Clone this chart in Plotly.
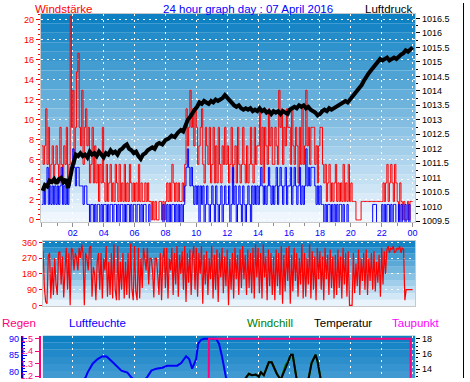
import plotly.graph_objects as go

W, H = 470, 382

# ---------------- data ----------------
# 5-minute time grid (hours of the day)
t5 = [i / 12 for i in range(289)]

# Windstärke: gusts (red) – one row per hour
gust = [
    7.4, 5.55, 7.4, 11.1, 5.55, 9.25, 3.7, 5.55, 7.4, 3.7, 5.55, 7.4,
    5.55, 3.7, 9.25, 5.55, 3.7, 7.4, 5.55, 9.25, 3.7, 5.55, 20.35, 9.25,
    12.95, 5.55, 9.25, 14.8, 16.65, 9.25, 7.4, 12.95, 5.55, 9.25, 11.1, 7.4,
    9.25, 3.7, 5.55, 9.25, 3.7, 7.4, 3.7, 5.55, 1.85, 5.55, 3.7, 9.25,
    3.7, 1.85, 5.55, 1.85, 3.7, 5.55, 1.85, 3.7, 1.85, 5.55, 3.7, 1.85,
    5.55, 1.85, 3.7, 1.85, 5.55, 1.85, 3.7, 1.85, 5.55, 3.7, 1.85, 3.7,
    1.85, 3.7, 1.85, 5.55, 1.85, 3.7, 1.85, 1.85, 3.7, 1.85, 3.7, 1.85,
    1.85, 0, 1.85, 0, 1.85, 0, 0, 1.85, 1.85, 0, 1.85, 0,
    1.85, 3.7, 1.85, 3.7, 1.85, 5.55, 3.7, 1.85, 3.7, 1.85, 3.7, 1.85,
    1.85, 3.7, 1.85, 5.55, 11.1, 7.4, 9.25, 12.95, 9.25, 11.1, 7.4, 11.1,
    9.25, 5.55, 7.4, 9.25, 11.1, 5.55, 3.7, 9.25, 7.4, 5.55, 9.25, 3.7,
    5.55, 9.25, 3.7, 7.4, 3.7, 9.25, 5.55, 3.7, 7.4, 5.55, 9.25, 5.55,
    7.4, 3.7, 5.55, 9.25, 3.7, 5.55, 7.4, 3.7, 9.25, 5.55, 3.7, 5.55,
    9.25, 5.55, 3.7, 7.4, 3.7, 5.55, 9.25, 5.55, 3.7, 9.25, 5.55, 7.4,
    7.4, 11.1, 5.55, 9.25, 3.7, 9.25, 7.4, 5.55, 11.1, 7.4, 9.25, 5.55,
    5.55, 9.25, 7.4, 5.55, 12.95, 9.25, 11.1, 5.55, 9.25, 7.4, 11.1, 9.25,
    9.25, 5.55, 11.1, 7.4, 5.55, 9.25, 7.4, 3.7, 9.25, 5.55, 11.1, 5.55,
    7.4, 12.95, 7.4, 9.25, 5.55, 9.25, 9.25, 9.25, 5.55, 7.4, 3.7, 7.4,
    9.25, 9.25, 5.55, 3.7, 5.55, 1.85, 3.7, 5.55, 1.85, 3.7, 1.85, 3.7,
    5.55, 1.85, 3.7, 1.85, 3.7, 1.85, 5.55, 1.85, 3.7, 1.85, 5.55, 1.85,
    3.7, 1.85, 1.85, 1.85, 0, 0, 0, 0, 1.85, 1.85, 1.85, 1.85,
    1.85, 1.85, 1.85, 1.85, 1.85, 1.85, 1.85, 1.85, 1.85, 1.85, 1.85, 1.85,
    1.85, 3.7, 1.85, 3.7, 5.55, 1.85, 3.7, 5.55, 3.7, 1.85, 5.55, 3.7,
    1.85, 0, 3.7, 1.85, 0, 1.85, 0, 0, 1.85, 0, 1.85, 1.85, 1.85,
]
# Windstärke: average (blue)
wind_avg = [
    1.85, 3.7, 1.85, 3.7, 5.55, 1.85, 3.7, 1.85, 3.7, 1.85, 3.7, 1.85,
    3.7, 1.85, 3.7, 5.55, 1.85, 3.7, 1.85, 3.7, 1.85, 3.7, 5.55, 5.55,
    7.4, 5.55, 3.7, 5.55, 5.55, 3.7, 3.7, 3.7, 1.85, 3.7, 3.7, 1.85,
    1.85, 0, 1.85, 1.85, 0, 1.85, 0, 1.85, 1.85, 0, 1.85, 0,
    1.85, 1.85, 0, 1.85, 0, 1.85, 1.85, 0, 1.85, 1.85, 0, 1.85,
    0, 1.85, 1.85, 0, 1.85, 0, 1.85, 1.85, 0, 1.85, 0, 1.85,
    1.85, 0, 1.85, 1.85, 0, 1.85, 0, 1.85, 1.85, 0, 0, 1.85,
    0, 0, 0, 0, 0, 0, 0, 0, 0, 0, 1.85, 0,
    0, 1.85, 0, 1.85, 0, 1.85, 1.85, 0, 1.85, 0, 1.85, 0,
    1.85, 0, 1.85, 3.7, 5.55, 7.4, 5.55, 3.7, 5.55, 3.7, 1.85, 3.7,
    1.85, 3.7, 0, 3.7, 1.85, 3.7, 0, 1.85, 3.7, 1.85, 0, 1.85,
    3.7, 1.85, 0, 3.7, 1.85, 0, 1.85, 3.7, 0, 1.85, 3.7, 1.85,
    1.85, 3.7, 0, 1.85, 5.55, 1.85, 3.7, 0, 1.85, 3.7, 1.85, 0,
    3.7, 1.85, 0, 1.85, 3.7, 1.85, 0, 3.7, 1.85, 3.7, 1.85, 3.7,
    1.85, 3.7, 5.55, 3.7, 1.85, 3.7, 1.85, 3.7, 5.55, 3.7, 1.85, 3.7,
    1.85, 3.7, 5.55, 1.85, 3.7, 5.55, 3.7, 1.85, 3.7, 5.55, 1.85, 3.7,
    3.7, 5.55, 1.85, 3.7, 5.55, 3.7, 1.85, 3.7, 5.55, 1.85, 3.7, 1.85,
    3.7, 7.4, 3.7, 5.55, 3.7, 5.55, 5.55, 5.55, 3.7, 1.85, 3.7, 1.85,
    3.7, 1.85, 1.85, 0, 1.85, 0, 1.85, 1.85, 0, 1.85, 0, 1.85,
    0, 1.85, 0, 1.85, 1.85, 0, 1.85, 0, 0, 1.85, 0, 0,
    0, 0, 0, 0, 0, 0, 0, 0, 0, 0, 0, 0,
    0, 0, 0, 0, 0, 1.85, 1.85, 1.85, 0, 0, 0, 0,
    1.85, 0, 1.85, 0, 1.85, 1.85, 0, 1.85, 0, 1.85, 1.85, 0,
    0, 1.85, 0, 1.85, 0, 0, 1.85, 0, 0, 1.85, 0, 0, 0,
]

# Luftdruck (hour, hPa)
press_pts = [
    (0.05, 1010.55), (0.2, 1010.75), (0.35, 1010.7), (0.5, 1010.9), (0.65, 1010.85),
    (0.8, 1010.95), (0.95, 1010.8), (1.1, 1010.95), (1.25, 1011.0), (1.4, 1010.85),
    (1.55, 1010.95), (1.7, 1010.65), (1.8, 1010.9), (1.9, 1011.2), (2.0, 1011.45),
    (2.1, 1011.6), (2.2, 1011.8), (2.35, 1011.75), (2.5, 1011.85), (2.65, 1011.75),
    (2.8, 1011.8), (2.95, 1011.7), (3.1, 1011.9), (3.25, 1011.8), (3.4, 1011.85),
    (3.55, 1011.75), (3.7, 1011.9), (3.85, 1011.8), (4.0, 1011.7), (4.15, 1011.85),
    (4.3, 1011.8), (4.45, 1011.95), (4.6, 1011.85), (4.75, 1011.9), (4.9, 1011.8),
    (5.05, 1011.95), (5.2, 1012.0), (5.35, 1012.1), (5.5, 1012.15), (5.65, 1012.0),
    (5.8, 1011.95), (5.95, 1011.85), (6.1, 1011.9), (6.25, 1011.75), (6.4, 1011.65),
    (6.55, 1011.8), (6.7, 1011.85), (6.85, 1011.95), (7.0, 1012.0), (7.15, 1012.05),
    (7.3, 1012.0), (7.45, 1012.15), (7.6, 1012.2), (7.8, 1012.15), (8.0, 1012.3),
    (8.2, 1012.35), (8.4, 1012.45), (8.6, 1012.4), (8.8, 1012.55), (9.0, 1012.65),
    (9.15, 1012.6), (9.3, 1012.8), (9.45, 1013.0), (9.6, 1013.1), (9.75, 1013.25),
    (9.9, 1013.35), (10.05, 1013.45), (10.2, 1013.6), (10.35, 1013.55), (10.5, 1013.65),
    (10.65, 1013.6), (10.8, 1013.55), (10.95, 1013.65), (11.1, 1013.6), (11.25, 1013.7),
    (11.4, 1013.65), (11.55, 1013.7), (11.7, 1013.75), (11.85, 1013.85), (12.0, 1013.75),
    (12.15, 1013.65), (12.3, 1013.55), (12.45, 1013.5), (12.6, 1013.45), (12.75, 1013.5),
    (12.9, 1013.4), (13.05, 1013.35), (13.2, 1013.4), (13.35, 1013.35), (13.5, 1013.4),
    (13.65, 1013.3), (13.8, 1013.35), (13.95, 1013.3), (14.1, 1013.4), (14.25, 1013.3),
    (14.4, 1013.35), (14.55, 1013.25), (14.7, 1013.3), (14.85, 1013.2), (15.0, 1013.3),
    (15.15, 1013.25), (15.3, 1013.3), (15.45, 1013.2), (15.6, 1013.3), (15.75, 1013.25),
    (15.9, 1013.2), (16.05, 1013.35), (16.2, 1013.4), (16.35, 1013.45), (16.5, 1013.4),
    (16.65, 1013.5), (16.8, 1013.45), (16.95, 1013.5), (17.1, 1013.4), (17.25, 1013.45),
    (17.4, 1013.35), (17.55, 1013.3), (17.7, 1013.25), (17.85, 1013.15), (18.0, 1013.2),
    (18.15, 1013.3), (18.3, 1013.35), (18.45, 1013.3), (18.6, 1013.4), (18.75, 1013.35),
    (18.9, 1013.4), (19.05, 1013.45), (19.2, 1013.5), (19.35, 1013.55), (19.5, 1013.6),
    (19.65, 1013.65), (19.8, 1013.6), (19.95, 1013.7), (20.1, 1013.8), (20.25, 1013.85),
    (20.4, 1013.95), (20.55, 1014.05), (20.7, 1014.2), (20.85, 1014.35), (21.0, 1014.5),
    (21.15, 1014.6), (21.3, 1014.7), (21.45, 1014.8), (21.6, 1014.9), (21.75, 1015.0),
    (21.9, 1015.1), (22.05, 1015.05), (22.2, 1015.1), (22.35, 1015.15), (22.5, 1015.05),
    (22.65, 1015.1), (22.8, 1015.15), (22.95, 1015.1), (23.1, 1015.2), (23.25, 1015.25),
    (23.4, 1015.3), (23.55, 1015.4), (23.7, 1015.35), (23.85, 1015.45), (24.0, 1015.5),
]
press_h = [p[0] for p in press_pts]
press = [p[1] for p in press_pts]

# Windrichtung (degrees), 5-minute values – one row per hour
wind_dir = [
    315, 310, 100, 20, 10, 280, 300, 40, 220, 60, 270, 120,
    60, 300, 310, 120, 280, 45, 200, 330, 90, 300, 0, 330,
    315, 200, 300, 270, 200, 330, 270, 350, 300, 0, 300, 270,
    200, 330, 340, 50, 220, 180, 30, 250, 300, 90, 300, 40,
    270, 200, 340, 50, 250, 60, 300, 40, 350, 90, 30, 340,
    30, 250, 90, 300, 40, 250, 60, 300, 40, 355, 90, 30,
    340, 80, 30, 330, 40, 270, 100, 330, 270, 200, 330, 120,
    270, 270, 200, 45, 270, 270, 180, 60, 300, 30, 270, 330,
    100, 330, 40, 270, 200, 330, 60, 300, 120, 340, 50, 290,
    180, 310, 90, 340, 20, 300, 130, 320, 60, 280, 340, 90,
    330, 50, 300, 180, 340, 10, 290, 120, 310, 60, 270, 150,
    340, 40, 290, 90, 320, 20, 300, 160, 330, 70, 280, 110,
    320, 0, 270, 90, 300, 40, 330, 150, 290, 60, 320, 100,
    340, 150, 290, 60, 320, 100, 300, 70, 330, 40, 350, 160,
    330, 70, 300, 40, 350, 160, 280, 30, 320, 110, 300, 60,
    280, 30, 320, 110, 300, 60, 340, 10, 290, 80, 330, 140,
    340, 10, 290, 80, 330, 140, 300, 50, 270, 120, 350, 40,
    300, 50, 270, 120, 350, 40, 310, 90, 280, 30, 330, 150,
    310, 90, 280, 30, 330, 150, 290, 60, 320, 100, 280, 40,
    290, 60, 320, 100, 280, 40, 330, 120, 300, 50, 310, 0,
    0, 0, 300, 70, 240, 110, 320, 60, 270, 140, 300, 90,
    320, 60, 270, 140, 300, 90, 310, 80, 250, 130, 290, 50,
    330, 120, 310, 180, 320, 340, 300, 330, 320, 340, 300, 310,
    330, 320, 340, 300, 330, 320, 30, 90, 90, 90, 90, 90, 90,
]
compass_vals = [0, 90, 180, 270, 360]
compass_text = ["N", "O", "S", "W", "N"]

# Regen (mm)
rain_h = [0, 6, 10.75, 10.82, 23.87, 23.9, 24]
rain = [0, 0, 0, 1.5, 1.5, 0, 0]

# Luftfeuchte (%)
hum_h = [0, 1, 2, 2.6, 2.83, 2.96, 3.29, 3.61, 3.93, 4.19, 4.51, 4.83, 5.15, 5.54,
         5.8, 6.3, 6.77, 7.09, 7.41, 7.8, 8.12, 8.76, 9.02, 9.34, 9.54, 9.73, 9.99,
         10.12, 10.31, 10.5, 11.28, 11.47, 11.66, 11.92, 12.5, 14, 16, 18, 20, 22, 24]
hum = [74, 75, 76, 77, 78.2, 79.7, 82.4, 83.8, 84.7, 84.6, 83.2, 81.8, 80.3, 79.7,
       78.2, 76.5, 78.0, 80.3, 80.9, 81.2, 81.8, 81.8, 82.6, 84.7, 83.8, 80.9, 83.8,
       88.5, 89.7, 90.0, 90.0, 88.5, 84.7, 78.2, 72, 62, 58, 60, 64, 66, 68]

# Temperatur / Windchill / Taupunkt (°C)
temp_h = [0, 2, 4, 6, 8, 10, 12, 13.0, 13.21, 13.4, 13.6, 13.85, 14.05, 14.18, 14.37,
          14.55, 14.69, 14.88, 15.05, 15.21, 15.46, 15.65, 15.79, 15.95, 16.11, 16.24,
          16.35, 16.5, 16.95, 17.27, 17.46, 17.72, 17.85, 18.04, 18.3, 20, 22, 24]
temp = [8.6, 8.2, 7.9, 7.6, 8.8, 10.4, 11.8, 12.3, 12.8, 13.4, 13.2, 13.3, 13.0, 13.6,
        13.2, 14.2, 14.9, 14.9, 14.0, 13.4, 12.6, 13.5, 14.1, 15.0, 15.9, 15.9, 14.5,
        12.6, 12.5, 12.8, 14.8, 15.9, 15.0, 12.8, 12.2, 10.9, 9.8, 9.2]
windchill = [7.4, 6.9, 6.5, 6.3, 7.6, 9.5, 11.8, 12.3, 12.8, 13.4, 13.2, 13.3, 13.0, 13.6,
             13.2, 14.2, 14.9, 14.9, 14.0, 13.4, 12.6, 13.9, 14.6, 15.0, 15.9, 15.9, 14.5,
             12.6, 12.5, 12.8, 14.8, 15.9, 15.0, 12.8, 12.2, 10.9, 9.0, 8.2]
dew_h = [0, 4, 8, 12, 16, 20, 24]
dew = [6.8, 6.5, 7.0, 7.6, 6.9, 6.4, 6.1]

hour_ticks = [2, 4, 6, 8, 10, 12, 14, 16, 18, 20, 22, 24]
hour_text = ["02", "04", "06", "08", "10", "12", "14", "16", "18", "20", "22", "00"]

# ---------------- styling helpers ----------------
FONT = "Liberation Sans"
GRID = dict(showgrid=True, gridcolor="white", griddash="2px,4px", gridwidth=1)
FRAME = "#c8c8c8"


def px_x(p):
    return p / W


def px_y(p):
    return 1 - p / H


def bands(xref, yref, c_top, c_bot, n=22):
    out = []
    for k in range(n):
        t = (k + 0.5) / n  # 0 bottom .. 1 top
        c = tuple(int(round(c_bot[i] + (c_top[i] - c_bot[i]) * t)) for i in range(3))
        out.append(dict(type="rect", xref=xref, yref=yref, x0=0, x1=1,
                        y0=k / n, y1=(k + 1) / n, layer="below",
                        line=dict(width=0), fillcolor="rgb(%d,%d,%d)" % c))
    return out


TOP = (8, 126, 194)
BOT = (244, 249, 255)
WIND_RANGE = [-0.196, 20.59]
AVG_RANGE = [0.104, 20.89]   # average wind drawn ~3px lower, as in the original

fig = go.Figure()

# top panel
fig.add_trace(go.Scatter(x=t5, y=gust, mode="lines", xaxis="x", yaxis="y",
                         line=dict(color="#ff0000", width=1, shape="hv")))
fig.add_trace(go.Scatter(x=t5, y=wind_avg, mode="lines", xaxis="x", yaxis="y2",
                         line=dict(color="#0000ff", width=1, shape="hv")))
fig.add_trace(go.Scatter(x=press_h, y=press, mode="lines", xaxis="x", yaxis="y3",
                         line=dict(color="#000000", width=4)))
# middle panel
fig.add_trace(go.Scatter(x=t5, y=wind_dir, mode="lines", xaxis="x2", yaxis="y4",
                         line=dict(color="#ff0000", width=1.2)))
# bottom panel
fig.add_trace(go.Scatter(x=dew_h, y=dew, mode="lines", xaxis="x3", yaxis="y6",
                         line=dict(color="#ff00ff", width=2)))
fig.add_trace(go.Scatter(x=temp_h, y=windchill, mode="lines", xaxis="x3", yaxis="y6",
                         line=dict(color="#008000", width=2)))
fig.add_trace(go.Scatter(x=temp_h, y=temp, mode="lines", xaxis="x3", yaxis="y6",
                         line=dict(color="#000000", width=2)))
fig.add_trace(go.Scatter(x=hum_h, y=hum, mode="lines", xaxis="x3", yaxis="y7",
                         line=dict(color="#0000ff", width=2)))
fig.add_trace(go.Scatter(x=rain_h, y=rain, mode="lines", xaxis="x3", yaxis="y8",
                         line=dict(color="#ff0080", width=2)))

shapes = []
shapes += bands("x domain", "y domain", TOP, BOT)
shapes += bands("x2 domain", "y4 domain", TOP, BOT, n=10)
shapes += bands("x3 domain", "y6 domain", TOP, (70, 155, 212), n=6)
shapes.append(dict(type="line", xref="paper", yref="paper", x0=px_x(465.5), x1=px_x(465.5),
                   y0=0, y1=1, line=dict(color="black", width=1)))

annotations = [
    dict(text="Windstärke", x=px_x(33), y=px_y(6), xanchor="left", font=dict(color="#ff0000")),
    dict(text="24 hour graph day : 07 April 2016", x=px_x(249), y=px_y(6), xanchor="center",
         font=dict(color="#0000ff")),
    dict(text="Luftdruck", x=px_x(417), y=px_y(6), xanchor="right", font=dict(color="#000000")),
    dict(text="Regen", x=px_x(0), y=px_y(326), xanchor="left", font=dict(color="#ff0080")),
    dict(text="Luftfeuchte", x=px_x(67), y=px_y(326), xanchor="left", font=dict(color="#0000ff")),
    dict(text="Windchill", x=px_x(246), y=px_y(326), xanchor="left", font=dict(color="#008000")),
    dict(text="Temperatur", x=px_x(313), y=px_y(326), xanchor="left", font=dict(color="#000000")),
    dict(text="Taupunkt", x=px_x(392), y=px_y(326), xanchor="left", font=dict(color="#ff00ff")),
]
for a in annotations:
    a.update(xref="paper", yref="paper", yanchor="middle", showarrow=False)
    a["font"].update(family=FONT, size=11.5)

fig.update_layout(
    width=W, height=H, margin=dict(l=0, r=0, t=0, b=0, pad=0),
    paper_bgcolor="white", plot_bgcolor="white", showlegend=False, hovermode=False,
    shapes=shapes, annotations=annotations,
    # ---- top panel ----
    xaxis=dict(domain=[px_x(41), px_x(417)], range=[-0.065, 24.17], anchor="y",
               dtick=2, tick0=0, showticklabels=False, ticks="outside", ticklen=4,
               tickcolor="#909090", showline=True, linecolor=FRAME, mirror=True,
               zeroline=False, minor=dict(dtick=1, ticks="outside", ticklen=3,
                                          tickcolor="#909090"), **GRID),
    yaxis=dict(domain=[px_y(223), px_y(11)], range=WIND_RANGE, anchor="x",
               dtick=2, tick0=0, ticks="outside", ticklen=4, tickcolor="#ff0000",
               tickfont=dict(family=FONT, size=9, color="#ff0000"), zeroline=False,
               showline=True, linecolor=FRAME, mirror=True,
               minor=dict(dtick=0.5, ticks="outside", ticklen=2, tickcolor="#ff0000"),
               **GRID),
    yaxis2=dict(overlaying="y", anchor="x", range=AVG_RANGE, visible=False),
    yaxis3=dict(overlaying="y", side="right", anchor="x", range=[1009.476, 1016.66],
                dtick=0.5, tick0=1009.5, tickformat=".1~f", ticks="outside", ticklen=4,
                tickcolor="#000000", tickfont=dict(family=FONT, size=9, color="#000000"),
                showgrid=False, zeroline=False,
                minor=dict(dtick=0.25, ticks="outside", ticklen=2, tickcolor="#000000")),
    # ---- middle panel ----
    xaxis2=dict(domain=[px_x(43), px_x(417)], range=[0.064, 24.17], anchor="y4",
                side="top", tickvals=hour_ticks, ticktext=hour_text, ticks="",
                tickfont=dict(family=FONT, size=9, color="#0000ff"), showgrid=False,
                showline=True, linecolor=FRAME, mirror=True, zeroline=False),
    yaxis4=dict(domain=[px_y(309), px_y(242)], range=[-5.6, 371.2], anchor="x2",
                tickvals=compass_vals, ticks="outside", ticklen=3, tickcolor="#ff0000",
                tickfont=dict(family=FONT, size=9, color="#ff0000"), zeroline=False,
                showline=True, linecolor=FRAME, mirror=True, **GRID),
    yaxis5=dict(overlaying="y4", anchor="free", position=px_x(430), side="right",
                range=[-5.6, 371.2], tickvals=compass_vals, ticktext=compass_text,
                ticks="", showgrid=False, zeroline=False, showline=False,
                tickfont=dict(family=FONT, size=12, color="#ff0000")),
    # ---- bottom panel ----
    xaxis3=dict(domain=[px_x(43), px_x(417)], range=[0.064, 24.17], anchor="y6",
                dtick=2, tick0=0, showticklabels=False, ticks="", zeroline=False,
                showline=False, **GRID),
    yaxis6=dict(domain=[0, px_y(339)], range=[12.84, 18.39], anchor="x3", side="right",
                dtick=2, tick0=0, ticks="outside", ticklen=4, tickcolor="#000000",
                tickfont=dict(family=FONT, size=9, color="#000000"), showgrid=False,
                zeroline=False, showline=False,
                minor=dict(dtick=0.5, ticks="outside", ticklen=2, tickcolor="#000000")),
    yaxis7=dict(overlaying="y6", anchor="free", position=px_x(22), side="left",
                range=[78.06, 90.9], dtick=5, tick0=0, ticks="inside", ticklen=4,
                tickcolor="#0000ff", tickfont=dict(family=FONT, size=9, color="#0000ff"),
                showgrid=False, zeroline=False, showline=True, linecolor="#0000ff",
                linewidth=2, minor=dict(dtick=1, ticks="inside", ticklen=2,
                                        tickcolor="#0000ff")),
    yaxis8=dict(overlaying="y6", anchor="free", position=px_x(40), side="left",
                range=[1.184, 1.524], dtick=0.1, tick0=0, ticks="outside", ticklen=4,
                tickcolor="#ff0080", tickfont=dict(family=FONT, size=9, color="#ff0080"),
                showgrid=False, zeroline=False, showline=True, linecolor="#ff0080",
                linewidth=2),
    yaxis9=dict(overlaying="y6", anchor="x3", side="left", range=[1.184, 1.524],
                tickvals=[1.3, 1.5], showticklabels=False, ticks="", zeroline=False,
                showline=False, **GRID),
)

# the page body has a default 8px margin; remove it so the chart sits at (0,0)
fig.write_html("out.html", config={"staticPlot": True},
               post_script="document.body.style.margin='0px';")
